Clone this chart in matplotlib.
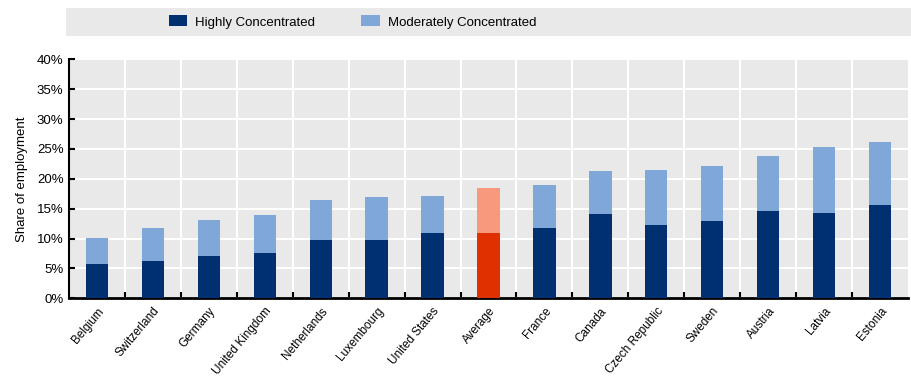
import matplotlib
matplotlib.use("Agg")
import matplotlib.pyplot as plt
from matplotlib.patches import Rectangle, Patch
from matplotlib.ticker import FixedLocator, PercentFormatter

plt.rcParams['font.family'] = ['Liberation Sans Narrow', 'Liberation Sans', 'DejaVu Sans']

countries = ["Belgium", "Switzerland", "Germany", "United Kingdom", "Netherlands",
             "Luxembourg", "United States", "Average", "France", "Canada",
             "Czech Republic", "Sweden", "Austria", "Latvia", "Estonia"]
highly = [5.7, 6.2, 7.1, 7.6, 9.8, 9.8, 10.9, 10.9, 11.8, 14.1, 12.3, 12.9, 14.6, 14.3, 15.6]
total = [10.1, 11.8, 13.1, 13.9, 16.4, 16.9, 17.1, 18.4, 18.9, 21.3, 21.5, 22.1, 23.8, 25.3, 26.2]
moderately = [t - h for t, h in zip(total, highly)]
yticks = [0, 5, 10, 15, 20, 25, 30, 35, 40]

dark = "#003070"
light = "#7fa8d9"
avg_dark = "#e03000"
avg_light = "#f7997c"

fig = plt.figure(figsize=(9.11, 3.78), dpi=100)
W, H = 911, 378
ax = fig.add_axes([69 / W, 1 - 298.3 / H, (908 - 69) / W, (298.3 - 59.3) / H])
ax.set_facecolor("#e9e9e9")

x = list(range(len(countries)))
dc = [avg_dark if c == "Average" else dark for c in countries]
lc = [avg_light if c == "Average" else light for c in countries]
ax.bar(x, highly, width=0.4, color=dc, zorder=3)
ax.bar(x, moderately, bottom=highly, width=0.4, color=lc, zorder=3)

ax.set_xlim(-0.5, len(countries) - 0.5)
ax.set_ylim(0, 40)
ax.yaxis.set_major_locator(FixedLocator(yticks))
ax.yaxis.set_major_formatter(PercentFormatter(decimals=0))
ax.set_xticks(x)
ax.set_xticklabels(countries, rotation=50, ha="right", rotation_mode="anchor", fontsize=8.5)
ax.tick_params(axis="x", length=0, pad=5)
ax.set_xticks([i + 0.5 for i in x[:-1]], minor=True)
ax.tick_params(axis="x", which="minor", direction="in", length=4, width=1.5, color="black")
ax.tick_params(axis="y", direction="in", length=4, width=1.5, labelsize=9.5, pad=4)
ax.grid(axis="y", color="white", linewidth=1.5, zorder=0)
ax.grid(axis="x", which="minor", color="white", linewidth=1.5, zorder=0)
ax.set_axisbelow(True)
for s in ["top", "right"]:
    ax.spines[s].set_visible(False)
ax.spines["left"].set_linewidth(1.5)
ax.spines["bottom"].set_linewidth(2)
ax.set_ylabel("Share of employment", fontsize=9.5, labelpad=6)

fig.patches.append(Rectangle((66 / W, 1 - 36 / H), 1 - 66 / W, 28 / H,
                             transform=fig.transFigure, facecolor="#e9e9e9",
                             edgecolor="none", zorder=0))
handles = [Patch(facecolor=dark, label="Highly Concentrated"),
           Patch(facecolor=light, label="Moderately Concentrated")]
fig.legend(handles=handles, loc="center left", bbox_to_anchor=(157 / W, 1 - 22 / H),
           ncol=2, frameon=False, fontsize=9.5, handlelength=1.4, handleheight=0.9,
           columnspacing=3.5, handletextpad=0.6)

fig.savefig("out.png", dpi=100)
